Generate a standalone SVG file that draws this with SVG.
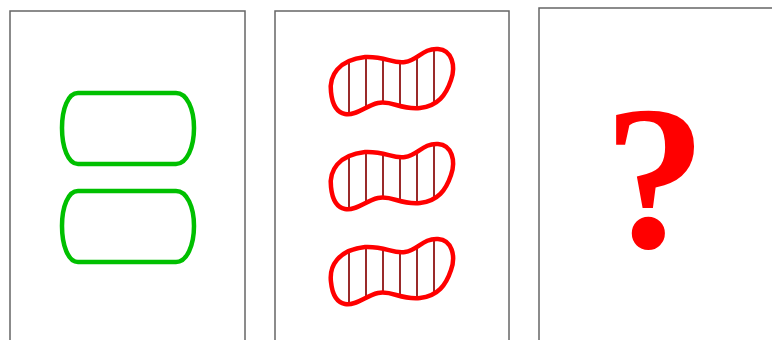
<svg xmlns="http://www.w3.org/2000/svg" width="772" height="340" viewBox="0 0 772 340">
<style>
.panel{fill:#fff;stroke:#666;stroke-width:1.5}
.pill{fill:none;stroke:#00c000;stroke-width:4.5}
.blob{fill:none;stroke:#f00;stroke-width:4.5}
.stripe{stroke:#9a2a2a;stroke-width:2}
.q{font-family:"Liberation Serif","Times New Roman",serif;font-weight:bold;font-size:205px;fill:#f00}
</style>
<defs>
<path id="blobShape" d="M331,92 C329,76 338,60 365,57 C385,56 393,64 405,62 C418,60 423,48 438,49 C452,50 456,66 451,80 C446,95 438,106 420,108 C400,110 392,100 378,103 C365,106 356,116 345,114 C335,112 332,102 331,92 Z"/>
<clipPath id="blobClip"><use href="#blobShape"/></clipPath>
<g id="stripes">
<line class="stripe" x1="349" y1="40" x2="349" y2="125"/>
<line class="stripe" x1="366" y1="40" x2="366" y2="125"/>
<line class="stripe" x1="383" y1="40" x2="383" y2="125"/>
<line class="stripe" x1="400" y1="40" x2="400" y2="125"/>
<line class="stripe" x1="417" y1="40" x2="417" y2="125"/>
<line class="stripe" x1="434" y1="40" x2="434" y2="125"/>
</g>
</defs>
<rect width="772" height="340" fill="#fff"/>
<g id="panel1">
<rect class="panel" x="10" y="11" width="235" height="340"/>
<path class="pill" d="M78,93 H176 C187,93 194,109 194,128 C194,147 187,164 176,164 H78 C68,164 62,147 62,128 C62,109 68,93 78,93 Z"/>
<path class="pill" d="M78,191 H176 C187,191 194,207 194,226 C194,245 187,262 176,262 H78 C68,262 62,245 62,226 C62,207 68,191 78,191 Z"/>
</g>
<g id="panel2">
<rect class="panel" x="275" y="11" width="234" height="340"/>
<g id="blob1">
<g clip-path="url(#blobClip)"><use href="#stripes"/></g>
<use href="#blobShape" class="blob"/>
</g>
<g id="blob2" transform="translate(0,95)">
<g clip-path="url(#blobClip)"><use href="#stripes"/></g>
<use href="#blobShape" class="blob"/>
</g>
<g id="blob3" transform="translate(0,190)">
<g clip-path="url(#blobClip)"><use href="#stripes"/></g>
<use href="#blobShape" class="blob"/>
</g>
</g>
<g id="panel3">
<rect class="panel" x="539" y="8" width="260" height="340"/>
<text class="q" x="655" y="247" text-anchor="middle">?</text>
</g>
</svg>
